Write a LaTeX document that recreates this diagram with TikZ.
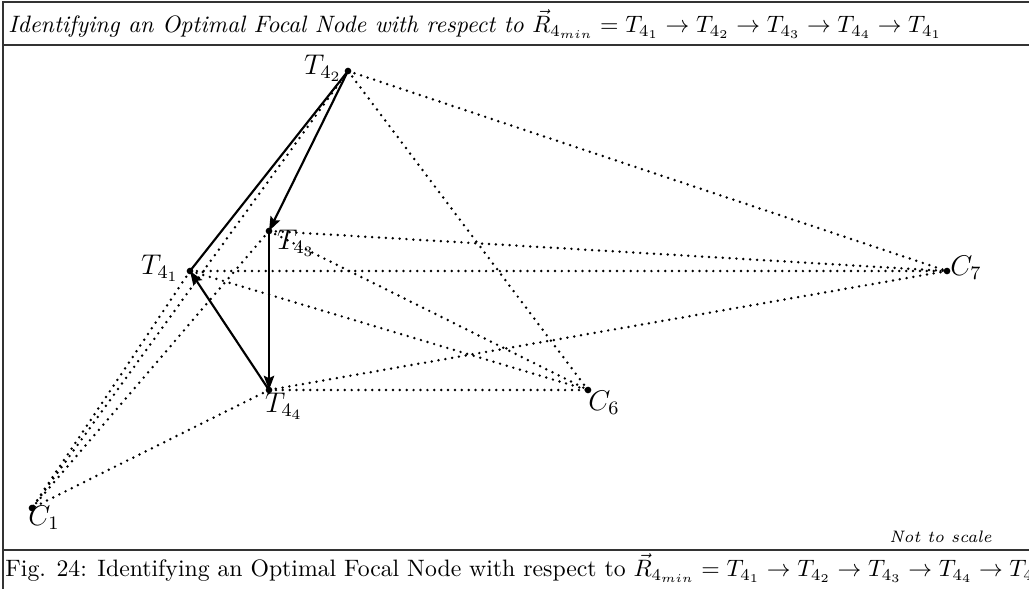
\documentclass[tikz,border=0pt]{standalone}
\usetikzlibrary{arrows.meta}
\begin{document}
\begin{tikzpicture}[x=0.0148cm,y=-0.0148cm,
  frame/.style={line width=0.75pt,black!80},
  dotline/.style={line width=1.15pt,dash pattern=on 0pt off 2.9pt,line cap=round},
  route/.style={line width=0.9pt},
  routearrow/.style={route,-{Stealth[length=6pt,width=4.4pt,inset=1pt]}},
  pt/.style={circle,fill,inner sep=0pt,minimum size=2.8pt},
  lbl/.style={inner sep=0pt,font=\large}]
\useasboundingbox (0,0) rectangle (1029,588);
% frame
\draw[frame] (1040,2) -- (3,2) -- (3,600);
\draw[frame] (3,45) -- (1040,45);
\draw[frame] (3,550) -- (1040,550);
\node[anchor=west,inner sep=0pt] (title) at (8,24) {\itshape Identifying an Optimal Focal Node with respect to $\vec{R}_{4_{min}}=T_{4_1}\rightarrow T_{4_2}\rightarrow T_{4_3}\rightarrow T_{4_4}\rightarrow T_{4_1}$};
\node[anchor=west,inner sep=0pt] (caption) at (5,568) {Fig. 24: Identifying an Optimal Focal Node with respect to $\vec{R}_{4_{min}}=T_{4_1}\rightarrow T_{4_2}\rightarrow T_{4_3}\rightarrow T_{4_4}\rightarrow T_{4_1}$};
\node[anchor=east,inner sep=0pt,font=\scriptsize\itshape] (nts) at (992,537) {Not to scale};
% points
\coordinate (T2) at (348,71);
\coordinate (T3) at (269,231);
\coordinate (T1) at (190,271);
\coordinate (T4) at (269,390);
\coordinate (C6) at (588,390);
\coordinate (C7) at (947,271);
\coordinate (C1) at (32,508);
% dotted connections
\foreach \t in {T1,T2,T3,T4}{
  \foreach \c in {C1,C6,C7}{
    \draw[dotline] (\t) -- (\c);
  }
}
% route
\draw[route] (T1) -- (T2);
\draw[routearrow] (T2) -- (T3);
\draw[routearrow] (T3) -- (T4);
\draw[routearrow] (T4) -- (T1);
% dots
\foreach \p in {T1,T2,T3,T4,C1,C6,C7}{
  \node[pt] (d\p) at (\p) {};
}
% labels
\node[lbl] (lT2) at (323,68) {$T_{4_2}$};
\node[lbl] (lT3) at (296,243) {$T_{4_3}$};
\node[lbl] (lT1) at (160,268) {$T_{4_1}$};
\node[lbl] (lT4) at (284,406) {$T_{4_4}$};
\node[lbl] (lC6) at (604,403) {$C_6$};
\node[lbl] (lC7) at (966,268) {$C_7$};
\node[lbl] (lC1) at (44,518) {$C_1$};
\end{tikzpicture}
\end{document}
